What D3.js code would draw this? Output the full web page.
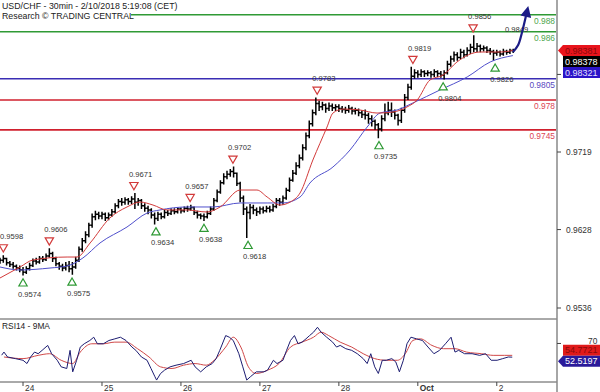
<!DOCTYPE html>
<html>
<head>
<meta charset="utf-8">
<title>USD/CHF 30min</title>
<script src="https://cdn.jsdelivr.net/npm/d3@7/dist/d3.min.js"></script>
<style>
  body { margin: 0; background: #fff; }
  svg { display: block; font-family: "Liberation Sans", Arial, sans-serif; }
</style>
</head>
<body>
<script>
// plan
// price panel on top: bars, two MAs, key levels, hi/lo markers, forecast arrow
// rsi panel under it, day axis at the bottom, price axis + tags on the right

var width = 600;
var height = 392;

// hourly bars, hour 0 = 24 sep 00:00
var firstHour = -7;
var closes = [
  0.9592,0.9594,0.9589,0.9587,0.9585,0.9583,0.9581,0.9578,0.9582,0.9586,
  0.9591,0.9590,0.9594,0.9593,0.9597,0.9600,0.9594,0.9588,0.9585,0.9583,
  0.9586,0.9582,0.9584,0.9592,0.9605,0.9615,0.9622,0.9633,0.9643,0.9646,
  0.9644,0.9646,0.9642,0.9645,0.9649,0.9656,0.9661,0.9660,0.9663,0.9661,
  0.9664,0.9660,0.9662,0.9656,0.9653,0.9651,0.9645,0.9641,0.9646,0.9643,
  0.9648,0.9647,0.9650,0.9649,0.9652,0.9650,0.9653,0.9652,0.9654,0.9648,
  0.9645,0.9644,0.9643,0.9647,0.9652,0.9662,0.9672,0.9683,0.9690,0.9693,
  0.9696,0.9694,0.9682,0.9665,0.9652,0.9648,0.9654,0.9651,0.9649,0.9652,
  0.9650,0.9653,0.9651,0.9655,0.9662,0.9660,0.9665,0.9674,0.9686,0.9694,
  0.9703,0.9712,0.9724,0.9738,0.9752,0.9765,0.9776,0.9772,0.9774,0.9770,
  0.9773,0.9771,0.9772,0.9770,0.9769,0.9768,0.9770,0.9767,0.9768,0.9765,
  0.9763,0.9762,0.9758,0.9755,0.9751,0.9746,0.9758,0.9765,0.9768,0.9766,
  0.9762,0.9756,0.9768,0.9783,0.9795,0.9808,0.9812,0.9810,0.9813,0.9811,
  0.9812,0.9810,0.9813,0.9811,0.9809,0.9812,0.9822,0.9828,0.9833,0.9830,
  0.9836,0.9833,0.9838,0.9842,0.9840,0.9843,0.9840,0.9841,0.9838,0.9837,
  0.9835,0.9836,0.9834,0.9837,0.9836,0.9838,0.9838
];
var highs = [
  0.9595,0.9598,0.9595,0.9591,0.9590,0.9587,0.9586,0.9584,0.9585,0.9589,
  0.9594,0.9595,0.9597,0.9597,0.9600,0.9606,0.9602,0.9596,0.9590,0.9588,
  0.9590,0.9591,0.9590,0.9596,0.9608,0.9618,0.9626,0.9636,0.9647,0.9650,
  0.9649,0.9649,0.9648,0.9648,0.9652,0.9659,0.9664,0.9665,0.9666,0.9665,
  0.9667,0.9671,0.9665,0.9664,0.9659,0.9656,0.9653,0.9648,0.9649,0.9648,
  0.9651,0.9651,0.9653,0.9653,0.9654,0.9654,0.9655,0.9656,0.9657,0.9655,
  0.9650,0.9647,0.9647,0.9650,0.9655,0.9665,0.9675,0.9686,0.9694,0.9697,
  0.9699,0.9702,0.9695,0.9684,0.9668,0.9655,0.9658,0.9657,0.9654,0.9655,
  0.9655,0.9656,0.9656,0.9658,0.9665,0.9665,0.9668,0.9677,0.9689,0.9698,
  0.9707,0.9716,0.9728,0.9742,0.9756,0.9769,0.9783,0.9779,0.9778,0.9776,
  0.9777,0.9776,0.9775,0.9775,0.9773,0.9772,0.9774,0.9772,0.9771,0.9770,
  0.9768,0.9769,0.9765,0.9762,0.9757,0.9753,0.9762,0.9776,0.9778,0.9777,
  0.9769,0.9764,0.9771,0.9787,0.9799,0.9819,0.9816,0.9815,0.9816,0.9815,
  0.9815,0.9814,0.9816,0.9815,0.9814,0.9815,0.9826,0.9832,0.9837,0.9836,
  0.9840,0.9839,0.9842,0.9846,0.9856,0.9847,0.9845,0.9844,0.9843,0.9841,
  0.9839,0.9839,0.9838,0.9840,0.9839,0.9840,0.9840
];
var lows = [
  0.9588,0.9589,0.9586,0.9584,0.9582,0.9580,0.9578,0.9574,0.9576,0.9580,
  0.9584,0.9587,0.9588,0.9590,0.9591,0.9595,0.9590,0.9585,0.9581,0.9579,
  0.9580,0.9578,0.9575,0.9582,0.9590,0.9602,0.9612,0.9619,0.9630,0.9639,
  0.9640,0.9640,0.9638,0.9639,0.9643,0.9647,0.9653,0.9656,0.9657,0.9657,
  0.9658,0.9652,0.9656,0.9652,0.9649,0.9646,0.9641,0.9634,0.9638,0.9640,
  0.9641,0.9644,0.9645,0.9646,0.9647,0.9647,0.9648,0.9649,0.9650,0.9645,
  0.9641,0.9640,0.9638,0.9641,0.9645,0.9650,0.9660,0.9670,0.9681,0.9687,
  0.9690,0.9689,0.9679,0.9660,0.9645,0.9618,0.9640,0.9646,0.9644,0.9646,
  0.9647,0.9648,0.9648,0.9649,0.9653,0.9656,0.9657,0.9663,0.9672,0.9684,
  0.9692,0.9700,0.9709,0.9721,0.9735,0.9749,0.9762,0.9767,0.9768,0.9765,
  0.9767,0.9767,0.9767,0.9766,0.9765,0.9764,0.9765,0.9763,0.9763,0.9761,
  0.9759,0.9757,0.9752,0.9749,0.9745,0.9735,0.9743,0.9755,0.9762,0.9760,
  0.9757,0.9750,0.9753,0.9765,0.9780,0.9792,0.9805,0.9806,0.9807,0.9807,
  0.9808,0.9806,0.9807,0.9807,0.9806,0.9804,0.9810,0.9819,0.9825,0.9826,
  0.9828,0.9829,0.9831,0.9834,0.9836,0.9836,0.9836,0.9837,0.9835,0.9833,
  0.9826,0.9832,0.9831,0.9832,0.9833,0.9834,0.9835
];

// moving averages, [hour, price]
var fastMA = [
  [-7,0.95712],[-0.9,0.95841],[3,0.95923],[13.4,0.95958],[16.4,0.95958],[20.4,0.96123],
  [26.4,0.96416],[31.6,0.96545],[35.6,0.96603],[39.5,0.96568],[43.8,0.96510],[49.8,0.96510],
  [55.9,0.96486],[59.9,0.96545],[66,0.96744],[71.1,0.96744],[74.2,0.96662],[78.1,0.96568],
  [81.2,0.96603],[84.2,0.96709],[88.1,0.97096],[92.4,0.97483],[94.2,0.97647],[97.3,0.97694],
  [102.4,0.97683],[107.6,0.97647],[112.5,0.97659],[116.7,0.97718],[119.8,0.97800],
  [123.7,0.98035],[127.7,0.98093],[131.9,0.98246],[138.9,0.98363],[145,0.98363],[148.9,0.98381]
];
var slowMA = [
  [-7,0.95841],[-0.9,0.95806],[8.2,0.95829],[13.4,0.95853],[18.2,0.95947],[23.4,0.96123],
  [31.6,0.96310],[37.7,0.96474],[41.6,0.96510],[49.8,0.96545],[57.8,0.96545],[66,0.96592],
  [74.2,0.96592],[79,0.96592],[84.2,0.96662],[87.2,0.96826],[94.2,0.97014],[99.4,0.97214],
  [104.6,0.97483],[108.5,0.97647],[113.7,0.97683],[118.5,0.97765],[126.7,0.97917],
  [135,0.98070],[142,0.98246],[148.9,0.98321]
];

// key levels
var levels = [0.988, 0.986, 0.9805, 0.978, 0.9745];
var levelKinds = ['res', 'res', 'pivot', 'sup', 'sup'];

// labelled highs / lows
var peakHours = [-6, 8, 33.7, 50.8, 63.8, 89.4, 118.5, 136.8];
var peakPrices = [0.9598, 0.9606, 0.9671, 0.9657, 0.9702, 0.9783, 0.9819, 0.9856];
var troughHours = [0, 14.9, 40.4, 55, 68.4, 108.2, 127.7, 143.5];
var troughPrices = [0.9574, 0.9575, 0.9634, 0.9638, 0.9618, 0.9735, 0.9804, 0.9826];
var targetHour = 147.7;
var targetPrice = 0.9849;

// forecast arrow
var arrowPts = [[148.9,0.98363],[150.5,0.98445],[151.7,0.98598],[152.9,0.98790]];

// axes
var priceTicks = [0.9536, 0.9628, 0.9719, 0.9810];
var priceTickLabels = ['0.9536', '0.9628', '0.9719', ''];  // 0.9810 sits under the tags
var dayHours = [0, 24, 48, 72, 96, 120, 144];
var dayLabels = ['24', '25', '26', '27', '28', 'Oct', '2'];

// values in the tags on the right
var lastFastMA = 0.98381, lastClose = 0.98378, lastSlowMA = 0.98321;

// rsi 14 and its 9 period average, [hour, value]
var rsiLine = [
  [-6.5,55],[-5.8,59],[-4.7,52.7],[-2.3,50.6],[0,48.5],[1.2,44.3],[2.3,52.7],[3.5,59],[4.6,56.9],
  [5.8,61.2],[7.5,67.5],[8.7,56.9],[10.4,48.5],[11.6,40.1],[13.3,38],[14.3,61.2],[15.1,33.7],
  [16.3,48.5],[17.4,65.4],[18.6,69.6],[20.3,73.8],[21.5,78],[22.6,69.6],[24.4,69.6],[26.1,73.8],
  [27.9,75.9],[29.6,78],[31.3,73.8],[33.1,65.4],[34.3,61.2],[36,52.7],[37.7,48.5],[38.9,38],
  [40.1,27.4],[40.6,23.2],[41.8,31.6],[43,35.8],[44.7,40.1],[46.5,42.2],[48.8,44.3],[51.1,48.5],
  [52.3,40.1],[54,33.7],[55.7,40.1],[57.5,44.3],[58.7,50.6],[59.8,61.2],[61.6,80.1],[62.7,78],
  [63.9,73.8],[65.6,56.9],[66.8,40.1],[68,23.2],[69.1,27.4],[70.9,33.7],[73.2,33.7],[74.3,35.8],
  [76.1,48.5],[77.2,44.3],[79,48.5],[80.1,61.2],[81.3,73.8],[82.5,80.1],[83.6,69.6],[84.8,71.7],
  [86,75.9],[87.1,80.1],[88.3,84.4],[89.5,90.7],[90.6,84.4],[92.3,78],[94.1,71.7],[95.3,65.4],
  [96.4,67.5],[98.1,63.3],[99.9,61.2],[101.6,56.9],[103.4,50.6],[104.6,44.3],[105.7,56.9],
  [106.9,40.1],[108,31.6],[109.2,48.5],[110.4,48.5],[112.1,50.6],[113.3,46.4],[114.4,33.7],
  [115.6,48.5],[116.7,69.6],[117.9,78],[119.6,75.9],[121.4,73.8],[123.1,65.4],[124.9,56.9],
  [126.6,61.2],[128.4,69.6],[130.1,78],[131.3,59],[132.4,61.2],[134.2,56.9],[136.5,56.9],
  [138.8,54.8],[140.6,56.9],[142.3,48.5],[144.1,48.5],[145.8,50.6],[147.5,52.7],[148.7,52.5]
];
var rsiMA = [
  [-5.8,52.7],[0,50.6],[4.6,54.8],[8.1,56.9],[11.6,48.5],[15.1,44.3],[17.4,59],[20.9,69.6],
  [24.4,69.6],[27.9,71.7],[31.3,71.7],[34.8,63.3],[38.3,52.7],[41.8,40.1],[45.3,38],[48.8,42.2],
  [52.3,44.3],[55.7,42.2],[58.1,48.5],[61.6,65.4],[63.9,78],[66.2,65.4],[68.5,40.1],[70.9,31.6],
  [74.3,35.8],[77.8,44.3],[81.3,65.4],[84.8,71.7],[88.3,78],[90.6,84.4],[92.9,80.1],[96.4,71.7],
  [99.9,65.4],[103.4,56.9],[106.9,50.6],[110.4,48.5],[113.8,48.5],[116.2,56.9],[118.5,73.8],
  [120.8,75.9],[124.3,67.5],[127.8,63.3],[131.3,63.3],[134.8,59],[139.4,56.9],[142.9,54.8],
  [146.4,54.8],[148.7,54.8]
];
var rsiTicks = [70];
var lastRsiMA = 54.7721, lastRsi = 52.5197;

// ---- scales
var axisX = 557;
var x = d3.scaleLinear().domain([-7, 162]).range([0, 556]);
var y = d3.scaleLinear().domain([0.9536, 0.9719]).range([308, 152]);
var ry = d3.scaleLinear().domain([22, 100]).range([381, 320]);

var levelColor = {res: '#2f9a35', pivot: '#3a2db4', sup: '#d0202e'};
var levelText = {res: '#4fa64f', pivot: '#5a48c0', sup: '#dc4455'};

var svg = d3.select('body').append('svg')
  .attr('width', width)
  .attr('height', height);

var defs = svg.append('defs');
defs.append('clipPath').attr('id', 'clipMain')
  .append('rect').attr('x', 0).attr('y', 0).attr('width', 556).attr('height', 319);
defs.append('clipPath').attr('id', 'clipRsi')
  .append('rect').attr('x', 0).attr('y', 320).attr('width', 556).attr('height', 62);
defs.append('marker')
  .attr('id', 'head')
  .attr('viewBox', '0 -5 10 10')
  .attr('refX', 1).attr('refY', 0)
  .attr('markerUnits', 'userSpaceOnUse')
  .attr('markerWidth', 12).attr('markerHeight', 11)
  .attr('orient', 'auto')
  .append('path').attr('d', 'M0,-5L10,0L0,5Z').attr('fill', '#1c1c86');

var main = svg.append('g').attr('clip-path', 'url(#clipMain)');

// levels
main.selectAll('line.level')
  .data(levels).enter().append('line')
  .attr('class', 'level')
  .attr('x1', 0).attr('x2', 556)
  .attr('y1', function(d) { return y(d); })
  .attr('y2', function(d) { return y(d); })
  .attr('stroke', function(d, i) { return levelColor[levelKinds[i]]; })
  .attr('stroke-width', 1.6);

// bars (ohlc)
var bars = closes.map(function(c, i) {
  return {h: firstHour + i, o: i ? closes[i - 1] : c, c: c, hi: highs[i], lo: lows[i]};
});
main.selectAll('path.bar')
  .data(bars).enter().append('path')
  .attr('class', 'bar')
  .attr('d', function(d) {
    var bx = x(d.h);
    return 'M' + bx + ',' + y(d.hi) + 'V' + y(d.lo) +
      'M' + (bx - 1.7) + ',' + y(d.o) + 'H' + bx +
      'M' + bx + ',' + y(d.c) + 'H' + (bx + 1.7);
  })
  .attr('stroke', '#000')
  .attr('stroke-width', 1.5)
  .attr('fill', 'none');

// MAs
var maLine = d3.line()
  .x(function(d) { return x(d[0]); })
  .y(function(d) { return y(d[1]); })
  .curve(d3.curveMonotoneX);
main.append('path').datum(slowMA)
  .attr('d', maLine).attr('fill', 'none')
  .attr('stroke', '#5050cc').attr('stroke-width', 1);
main.append('path').datum(fastMA)
  .attr('d', maLine).attr('fill', 'none')
  .attr('stroke', '#d23a3a').attr('stroke-width', 1);

// markers
var tri = d3.symbol().type(d3.symbolTriangle).size(30);
main.selectAll('path.peak')
  .data(peakHours).enter().append('path')
  .attr('class', 'peak')
  .attr('d', tri)
  .attr('transform', function(d, i) {
    return 'translate(' + x(d) + ',' + (y(peakPrices[i]) - 8) + ') rotate(180)';
  })
  .attr('fill', '#fff').attr('stroke', '#d23a3a').attr('stroke-width', 1.2);
main.selectAll('path.trough')
  .data(troughHours).enter().append('path')
  .attr('class', 'trough')
  .attr('d', tri)
  .attr('transform', function(d, i) {
    return 'translate(' + x(d) + ',' + (y(troughPrices[i]) + 8) + ')';
  })
  .attr('fill', '#fff').attr('stroke', '#2f9a35').attr('stroke-width', 1.2);

var small = {size: '7.6px', color: '#333'};
main.selectAll('text.peak')
  .data(peakHours).enter().append('text')
  .attr('class', 'peak')
  .attr('x', function(d) { return Math.max(0, x(d) - 5); })
  .attr('y', function(d, i) { return y(peakPrices[i]) - 16; })
  .attr('font-size', small.size).attr('fill', small.color)
  .text(function(d, i) { return peakPrices[i].toFixed(4); });
main.selectAll('text.trough')
  .data(troughHours).enter().append('text')
  .attr('class', 'trough')
  .attr('x', function(d) { return Math.max(0, x(d) - 5); })
  .attr('y', function(d, i) { return y(troughPrices[i]) + 21; })
  .attr('font-size', small.size).attr('fill', small.color)
  .text(function(d, i) { return troughPrices[i].toFixed(4); });
main.append('text')
  .attr('x', x(targetHour) - 4)
  .attr('y', y(targetPrice) - 9)
  .attr('font-size', small.size).attr('fill', small.color)
  .text(targetPrice.toFixed(4));

// forecast arrow
main.append('path').datum(arrowPts)
  .attr('d', d3.line()
    .x(function(d) { return x(d[0]); })
    .y(function(d) { return y(d[1]); })
    .curve(d3.curveCatmullRom))
  .attr('fill', 'none')
  .attr('stroke', '#1c1c86').attr('stroke-width', 2.2)
  .attr('marker-end', 'url(#head)');

// titles
svg.append('rect').attr('x', 0).attr('y', 10).attr('width', 131).attr('height', 11).attr('fill', '#fff');
svg.append('text').attr('x', 2).attr('y', 9)
  .attr('font-size', '8.8px').attr('fill', '#222')
  .text('USD/CHF - 30min - 2/10/2018 5:19:08 (CET)');
svg.append('text').attr('x', 2).attr('y', 19)
  .attr('font-size', '8.8px').attr('fill', '#222')
  .text('Research \u00a9 TRADING CENTRAL');

// level labels
svg.selectAll('text.level')
  .data(levels).enter().append('text')
  .attr('class', 'level')
  .attr('x', 555)
  .attr('y', function(d) { return y(d) + 9; })
  .attr('text-anchor', 'end')
  .attr('font-size', '8.4px')
  .attr('fill', function(d, i) { return levelText[levelKinds[i]]; })
  .text(function(d) { return String(d); });

// panel frame
svg.append('line').attr('x1', 0).attr('x2', axisX).attr('y1', 319).attr('y2', 319)
  .attr('stroke', '#555').attr('stroke-width', 1);
svg.append('line').attr('x1', 0).attr('x2', axisX).attr('y1', 382).attr('y2', 382)
  .attr('stroke', '#555').attr('stroke-width', 1);
svg.append('line').attr('x1', axisX).attr('x2', axisX).attr('y1', 0).attr('y2', height)
  .attr('stroke', '#888').attr('stroke-width', 1.5);

// price axis
var pt = svg.selectAll('g.ptick').data(priceTicks).enter().append('g')
  .attr('class', 'ptick')
  .attr('transform', function(d) { return 'translate(' + axisX + ',' + y(d) + ')'; });
pt.append('line').attr('x1', 0).attr('x2', 4).attr('stroke', '#444');
pt.append('text').attr('x', 9).attr('dy', '0.35em')
  .attr('font-size', '8.4px').attr('fill', '#333')
  .text(function(d, i) { return priceTickLabels[i]; });

// tags for last values
function tag(yc, txt, fill, color, pointer) {
  var g = svg.append('g');
  var d = pointer
    ? 'M' + (axisX + 1) + ',' + yc + 'L' + (axisX + 6) + ',' + (yc - 5.5) + 'H600V' + (yc + 5.5) + 'H' + (axisX + 6) + 'Z'
    : 'M' + (axisX + 6) + ',' + (yc - 5.5) + 'H600V' + (yc + 5.5) + 'H' + (axisX + 6) + 'Z';
  g.append('path').attr('d', d).attr('fill', fill);
  g.append('text').attr('x', axisX + 8).attr('y', yc).attr('dy', '0.36em')
    .attr('font-size', '9px').attr('fill', color).text(txt);
}
var tagTop = y(lastFastMA);
tag(tagTop, lastFastMA.toFixed(5), '#e8141c', '#8a0a0a', true);
tag(tagTop + 11, lastClose.toFixed(5), '#000', '#fff', false);
tag(tagTop + 22, lastSlowMA.toFixed(5), '#2c14c8', '#e4e0ff', false);

// rsi panel
svg.append('text').attr('x', 2).attr('y', 329)
  .attr('font-size', '8.4px').attr('fill', '#222').text('RSI14 - 9MA');

var rsi = svg.append('g').attr('clip-path', 'url(#clipRsi)');
var rLine = d3.line()
  .x(function(d) { return x(d[0]); })
  .y(function(d) { return ry(d[1]); });
rsi.append('path').datum(rsiMA)
  .attr('d', rLine.curve(d3.curveMonotoneX)).attr('fill', 'none')
  .attr('stroke', '#d04848').attr('stroke-width', 1);
rsi.append('path').datum(rsiLine)
  .attr('d', rLine.curve(d3.curveLinear)).attr('fill', 'none')
  .attr('stroke', '#1d1d72').attr('stroke-width', 1);

var rt = svg.selectAll('g.rtick').data(rsiTicks).enter().append('g')
  .attr('class', 'rtick')
  .attr('transform', function(d) { return 'translate(' + axisX + ',' + ry(d) + ')'; });
rt.append('line').attr('x1', 0).attr('x2', 4).attr('stroke', '#444');
rt.append('text').attr('x', 31).attr('dy', '0.1em')
  .attr('font-size', '8.4px').attr('fill', '#333')
  .text(function(d) { return d; });

var rsiTagY = ry(lastRsi) + 4;
tag(rsiTagY - 11, lastRsiMA.toFixed(4), '#e01a1a', '#8a0a0a', false);
tag(rsiTagY, lastRsi.toFixed(4), '#2a1a9a', '#fff', true);

// day axis
var dt = svg.selectAll('g.day').data(dayHours).enter().append('g')
  .attr('class', 'day')
  .attr('transform', function(d) { return 'translate(' + x(d) + ',382)'; });
dt.append('line').attr('y1', 0).attr('y2', 4).attr('stroke', '#444');
dt.append('text').attr('x', 2).attr('y', 9)
  .attr('font-size', '8.4px').attr('fill', '#333')
  .attr('font-weight', function(d, i) { return dayLabels[i] === 'Oct' ? 'bold' : 'normal'; })
  .text(function(d, i) { return dayLabels[i]; });
</script>
</body>
</html>
